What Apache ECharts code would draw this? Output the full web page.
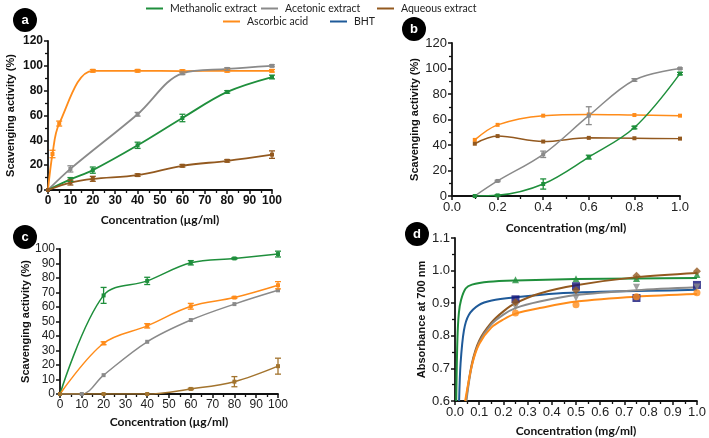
<!DOCTYPE html>
<html>
<head>
<meta charset="utf-8">
<script src="https://cdn.jsdelivr.net/npm/echarts@6/dist/echarts.min.js"></script>
<style>
  html, body { margin: 0; padding: 0; background: #fff; }
  #chart { width: 709px; height: 438px; }
</style>
</head>
<body>
<div id="chart"></div>
<script>
// series names
const names = ['Methanolic extract', 'Acetonic extract', 'Aqueous extract', 'Ascorbic acid', 'BHT'];

// panel a - DPPH (µg/ml)
const aMethX = [0, 10, 20, 40, 60, 80, 100];
const aMeth = [0, 8.5, 16, 36, 58, 79, 91];
const aMethErr = [0, 1.5, 2.5, 2.5, 3, 1, 1.5];
const aAcetX = [0, 10, 40, 60, 80, 100];
const aAcet = [0, 17, 61, 94, 97.5, 100];
const aAcetErr = [0, 2.5, 1.5, 1, 1, 0.8];
const aAqX = [0, 10, 20, 40, 60, 80, 100];
const aAq = [0, 6, 9, 12, 19.5, 23.5, 28.5];
const aAqErr = [0, 2, 2, 1, 1, 1, 3];
const aAscX = [0, 2, 5, 20, 40, 60, 80, 100];
const aAsc = [0, 29, 53.5, 96, 96, 95.8, 96, 96];
const aAscErr = [0, 3, 2, 1, 1, 1, 1, 1];

// panel b (mg/ml)
const bX = [0.1, 0.2, 0.4, 0.6, 0.8, 1.0];
const bMeth = [0, 0.5, 9.4, 30.5, 53.7, 96];
const bMethErr = [0, 0.5, 4, 1.5, 1, 1];
const bAcet = [0, 11.8, 32.7, 63, 91, 100];
const bAcetErr = [0, 0.5, 2.5, 7, 1, 0.5];
const bAq = [41, 47, 42.7, 45.6, 45.3, 45];
const bAsc = [44, 55.8, 63, 64, 63.5, 63];

// panel c (µg/ml)
const cX = [0, 20, 40, 60, 80, 100];
const cMeth = [0, 68, 78, 90.5, 93.5, 96.5];
const cMethErr = [0, 5.5, 2.5, 1.5, 0.5, 2];
const cAsc = [0, 35, 47, 60.5, 66.5, 75];
const cAscErr = [0, 1, 1.5, 2, 0.5, 2.5];
const cAcetX = [0, 10, 20, 40, 60, 80, 100];
const cAcet = [0, 0, 13, 36, 51, 62, 71.5];
const cAq = [0, 0, 0, 3.5, 8.5, 19.2];
const cAqErr = [0, 0, 0, 0.5, 3.5, 5.5];

// panel d - reducing power, measured points
const dX = [0.25, 0.5, 0.75, 1.0];
const dMeth = [0.972, 0.975, 0.976, 0.988];
const dBht = [0.912, 0.952, 0.916, 0.956];
const dAcet = [0.888, 0.916, 0.949, 0.95];
const dAq = [0.903, 0.94, 0.984, 0.998];
const dAsc = [0.870, 0.895, 0.92, 0.932];
// panel d - fitted curves
const dFitMeth = [[0.005, 0.6], [0.01, 0.79], [0.016, 0.87], [0.025, 0.91], [0.044, 0.945], [0.07, 0.957], [0.14, 0.966], [0.25, 0.97], [0.5, 0.974], [0.75, 0.976], [1.0, 0.977]];
const dFitBht = [[0.017, 0.6], [0.023, 0.715], [0.037, 0.817], [0.057, 0.864], [0.098, 0.894], [0.152, 0.908], [0.25, 0.918], [0.42, 0.93], [0.6, 0.935], [0.8, 0.938], [1.0, 0.941]];
const dFitAq = [[0.045, 0.6], [0.07, 0.715], [0.1, 0.785], [0.15, 0.84], [0.2, 0.875], [0.25, 0.9], [0.35, 0.93], [0.5, 0.955], [0.75, 0.98], [1.0, 0.993]];
const dFitAcet = [[0.047, 0.6], [0.07, 0.71], [0.1, 0.78], [0.15, 0.835], [0.2, 0.865], [0.25, 0.885], [0.35, 0.905], [0.5, 0.925], [0.75, 0.94], [1.0, 0.949]];
const dFitAsc = [[0.042, 0.6], [0.07, 0.71], [0.1, 0.775], [0.15, 0.825], [0.2, 0.85], [0.25, 0.868], [0.35, 0.885], [0.5, 0.905], [0.75, 0.92], [1.0, 0.928]];

const GREEN = '#1f8f3c', GRAY = '#8a8a8a', BROWN = '#93591f', ORANGE = '#ff8c1a', BLUE = '#1f5a99';
const NAVY = '#14147a';

var chart = echarts.init(document.getElementById('chart'));

function pairs(xs, ys) { return xs.map((x, i) => [x, ys[i]]); }

function lineS(name, color, xs, ys, idx, opts) {
    return Object.assign({
        type: 'line', name: name, xAxisIndex: idx, yAxisIndex: idx,
        data: pairs(xs, ys), smooth: 0.35,
        symbol: 'rect', symbolSize: 4, showSymbol: true,
        lineStyle: { color: color, width: 1.8 }, itemStyle: { color: color },
        z: 3
    }, opts || {});
}

function errS(name, color, xs, ys, errs, idx) {
    const data = [];
    xs.forEach((x, i) => { if (errs[i] > 0) data.push([x, ys[i] - errs[i], ys[i] + errs[i]]); });
    return {
        type: 'custom', name: name, xAxisIndex: idx, yAxisIndex: idx, data: data, z: 4,
        encode: { x: 0, y: [1, 2] },
        renderItem: function (params, api) {
            const lo = api.coord([api.value(0), api.value(1)]);
            const hi = api.coord([api.value(0), api.value(2)]);
            const w = 3;
            const st = { stroke: color, lineWidth: 1.3 };
            return {
                type: 'group', children: [
                    { type: 'line', shape: { x1: hi[0], y1: hi[1], x2: lo[0], y2: lo[1] }, style: st },
                    { type: 'line', shape: { x1: hi[0] - w, y1: hi[1], x2: hi[0] + w, y2: hi[1] }, style: st },
                    { type: 'line', shape: { x1: lo[0] - w, y1: lo[1], x2: lo[0] + w, y2: lo[1] }, style: st }
                ]
            };
        }
    };
}

const tickFont = 'Liberation Sans, Arial, sans-serif';
const titleFont = 'Lato, Liberation Sans, sans-serif';

function xAx(idx, min, max, interval, minorSplit, nameText, nameGap, labelStyle) {
    return {
        type: 'value', gridIndex: idx, min: min, max: max, interval: interval,
        name: nameText, nameLocation: 'middle', nameGap: nameGap,
        nameTextStyle: { fontFamily: titleFont, fontWeight: 'bold', fontSize: 12, color: '#111' },
        axisLine: { show: true, lineStyle: { color: '#111', width: 1.8 } },
        axisTick: { show: true, length: 4, lineStyle: { color: '#111', width: 1.5 } },
        minorTick: { show: minorSplit > 0, splitNumber: minorSplit || 5, length: 3, lineStyle: { color: '#111', width: 1.3 } },
        splitLine: { show: false },
        axisLabel: Object.assign({ color: '#222', fontFamily: tickFont, fontSize: 12, margin: 5 }, labelStyle || {})
    };
}

function yAx(idx, min, max, interval, minorSplit, nameText, nameGap, labelStyle) {
    const o = xAx(idx, min, max, interval, minorSplit, nameText, nameGap, labelStyle);
    o.nameTextStyle = { fontFamily: tickFont, fontWeight: 'bold', fontSize: 11, color: '#111' };
    return o;
}

const boldLabel = { fontWeight: 'bold', color: '#111', fontSize: 12 };
const oneDec = v => v.toFixed(1);

function legendAt(name, left, top) {
    return {
        data: [name], left: left, top: top, icon: 'rect', itemWidth: 17, itemHeight: 2,
        selectedMode: false,
        textStyle: { fontFamily: titleFont, fontSize: 10.5, color: '#222', padding: [0, 0, 0, 2] }
    };
}

function badge(cx, cy, letter) {
    return {
        type: 'group', children: [
            { type: 'circle', shape: { cx: cx, cy: cy, r: 12 }, style: { fill: '#000' } },
            { type: 'text', x: cx, y: cy, style: { text: letter, fill: '#fff', font: 'bold 13px Liberation Sans, Arial', align: 'center', verticalAlign: 'middle' } }
        ]
    };
}

const option = {
    animation: false,
    backgroundColor: '#fff',
    legend: [
        legendAt(names[0], 141, -2),
        legendAt(names[1], 256, -2),
        legendAt(names[2], 372, -2),
        legendAt(names[3], 218, 11),
        legendAt(names[4], 325, 11)
    ],
    grid: [
        { left: 48, top: 41, width: 224, height: 149 },
        { left: 452, top: 43, width: 228, height: 153 },
        { left: 60, top: 249, width: 218, height: 145 },
        { left: 455, top: 238, width: 245, height: 163 }
    ],
    xAxis: [
        xAx(0, 0, 100, 10, 2, 'Concentration (µg/ml)', 24, boldLabel),
        xAx(1, 0, 1, 0.2, 2, 'Concentration (mg/ml)', 26, { fontSize: 13, formatter: oneDec }),
        xAx(2, 0, 100, 10, 2, 'Concentration (µg/ml)', 22, { fontSize: 12 }),
        xAx(3, 0, 1, 0.1, 2, 'Concentration (mg/ml)', 24, { fontSize: 13, formatter: oneDec })
    ],
    yAxis: [
        yAx(0, 0, 120, 20, 2, 'Scavenging activity (%)', 32, boldLabel),
        yAx(1, 0, 120, 20, 2, 'Scavenging activity (%)', 32, { fontSize: 13 }),
        yAx(2, 0, 100, 10, 0, 'Scavenging activity (%)', 28, { fontSize: 12 }),
        yAx(3, 0.6, 1.1, 0.1, 2, 'Absorbance at 700 nm', 28, { fontSize: 13, formatter: oneDec })
    ],
    series: [
        // a
        lineS(names[3], ORANGE, aAscX, aAsc, 0),
        lineS(names[1], GRAY, aAcetX, aAcet, 0),
        lineS(names[0], GREEN, aMethX, aMeth, 0),
        lineS(names[2], BROWN, aAqX, aAq, 0),
        errS(names[3], ORANGE, aAscX, aAsc, aAscErr, 0),
        errS(names[1], GRAY, aAcetX, aAcet, aAcetErr, 0),
        errS(names[0], GREEN, aMethX, aMeth, aMethErr, 0),
        errS(names[2], BROWN, aAqX, aAq, aAqErr, 0),
        // b
        lineS(names[3], ORANGE, bX, bAsc, 1, { lineStyle: { color: ORANGE, width: 1.5 } }),
        lineS(names[2], BROWN, bX, bAq, 1, { lineStyle: { color: BROWN, width: 1.5 } }),
        lineS(names[1], GRAY, bX, bAcet, 1, { lineStyle: { color: GRAY, width: 1.5 } }),
        lineS(names[0], GREEN, bX, bMeth, 1, { lineStyle: { color: GREEN, width: 1.5 } }),
        errS(names[1], GRAY, bX, bAcet, bAcetErr, 1),
        errS(names[0], GREEN, bX, bMeth, bMethErr, 1),
        // c
        lineS(names[0], GREEN, cX, cMeth, 2, { lineStyle: { color: GREEN, width: 1.5 } }),
        lineS(names[3], ORANGE, cX, cAsc, 2, { lineStyle: { color: ORANGE, width: 1.5 } }),
        lineS(names[1], GRAY, cAcetX, cAcet, 2, { lineStyle: { color: GRAY, width: 1.5 } }),
        lineS(names[2], '#a3742e', cX, cAq, 2, { lineStyle: { color: '#a3742e', width: 1.5 } }),
        errS(names[0], GREEN, cX, cMeth, cMethErr, 2),
        errS(names[3], ORANGE, cX, cAsc, cAscErr, 2),
        errS(names[2], '#a3742e', cX, cAq, cAqErr, 2),
        // d fitted curves
        lineS(names[0], GREEN, dFitMeth.map(p => p[0]), dFitMeth.map(p => p[1]), 3, { smooth: 0.3, showSymbol: false, symbol: 'none', lineStyle: { color: GREEN, width: 2 } }),
        lineS(names[4], BLUE, dFitBht.map(p => p[0]), dFitBht.map(p => p[1]), 3, { smooth: 0.3, showSymbol: false, symbol: 'none', lineStyle: { color: BLUE, width: 2 } }),
        lineS(names[2], BROWN, dFitAq.map(p => p[0]), dFitAq.map(p => p[1]), 3, { smooth: 0.3, showSymbol: false, symbol: 'none', lineStyle: { color: BROWN, width: 2 } }),
        lineS(names[1], GRAY, dFitAcet.map(p => p[0]), dFitAcet.map(p => p[1]), 3, { smooth: 0.3, showSymbol: false, symbol: 'none', lineStyle: { color: GRAY, width: 2 } }),
        lineS(names[3], ORANGE, dFitAsc.map(p => p[0]), dFitAsc.map(p => p[1]), 3, { smooth: 0.3, showSymbol: false, symbol: 'none', lineStyle: { color: ORANGE, width: 2 } }),
        // d measured points
        { type: 'scatter', name: names[0], xAxisIndex: 3, yAxisIndex: 3, data: pairs(dX, dMeth), symbol: 'triangle', symbolSize: 7, itemStyle: { color: GREEN }, z: 5 },
        { type: 'scatter', name: names[4], xAxisIndex: 3, yAxisIndex: 3, data: pairs(dX, dBht), symbol: 'rect', symbolSize: 8, itemStyle: { color: NAVY }, z: 5 },
        { type: 'scatter', name: names[1], xAxisIndex: 3, yAxisIndex: 3, data: pairs(dX, dAcet), symbol: 'triangle', symbolRotate: 180, symbolSize: 7, itemStyle: { color: GRAY }, z: 5 },
        { type: 'scatter', name: names[2], xAxisIndex: 3, yAxisIndex: 3, data: pairs(dX, dAq), symbol: 'diamond', symbolSize: 8, itemStyle: { color: BROWN }, z: 5 },
        { type: 'scatter', name: names[3], xAxisIndex: 3, yAxisIndex: 3, data: pairs(dX, dAsc), symbol: 'circle', symbolSize: 7, itemStyle: { color: ORANGE }, z: 5 }
    ],
    graphic: [
        badge(25, 20, 'a'),
        badge(414, 29, 'b'),
        badge(25, 237, 'c'),
        badge(417, 234, 'd')
    ]
};

chart.setOption(option);
</script>
</body>
</html>
